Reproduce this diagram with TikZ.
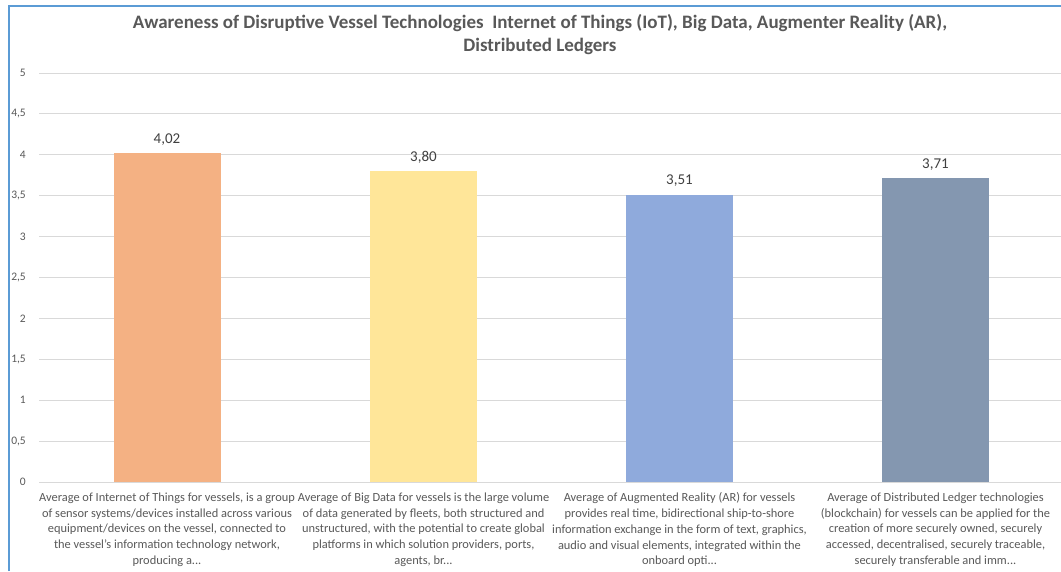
\documentclass[tikz,border=0pt]{standalone}
\usepackage{fontspec}
\setmainfont{Carlito}
\definecolor{frameblue}{HTML}{5B9BD5}
\definecolor{gridgray}{HTML}{D9D9D9}
\definecolor{txtgray}{HTML}{595959}
\definecolor{valgray}{HTML}{404040}
\definecolor{barA}{HTML}{F4B183}
\definecolor{barB}{HTML}{FFE699}
\definecolor{barC}{HTML}{8FAADC}
\definecolor{barD}{HTML}{8497B0}
\tikzset{
  gridline/.style={draw=gridgray, line width=1pt},
  ticklbl/.style={anchor=east, text=txtgray, font=\fontsize{11.5}{13}\selectfont, inner sep=0pt},
  barbox/.style={draw=none, minimum width=107pt, inner sep=0pt, anchor=south},
  vallbl/.style={text=valgray, font=\fontsize{15}{16}\selectfont, inner sep=0pt, anchor=base},
  catlbl/.style={text=txtgray, font=\fontsize{12.4}{15.8}\selectfont, align=center, anchor=north, inner sep=0pt},
  titlelbl/.style={text=txtgray, font=\bfseries\fontsize{19}{23}\selectfont, align=center, inner sep=0pt}
}
\begin{document}
\begin{tikzpicture}[x=1pt,y=-1pt]
\useasboundingbox (0,0) rectangle (1061,571);
\fill[white] (0,0) rectangle (1061,571);
% frame
\draw[frameblue, line width=2pt] (8.8,571) -- (8.8,5.8) -- (1061,5.8);
% title
\node[titlelbl] (title) at (540,35) {Awareness of Disruptive Vessel Technologies\ \ Internet of Things (IoT), Big Data, Augmenter Reality (AR),\\Distributed Ledgers};
% grid and ticks
\foreach \v/\l in {0/0,0.5/{0,5},1/1,1.5/{1,5},2/2,2.5/{2,5},3/3,3.5/{3,5},4/4,4.5/{4,5},5/5} {
  \draw[gridline] (39,{482-81.8*\v}) -- (1061,{482-81.8*\v});
  \node[ticklbl] at (26,{482-81.8*\v}) {\l};
}
% bars
\node[barbox, fill=barA, minimum height={4.02*81.8pt}] (b1) at (167,482) {};
\node[barbox, fill=barB, minimum height={3.80*81.8pt}] (b2) at (423.5,482) {};
\node[barbox, fill=barC, minimum height={3.51*81.8pt}] (b3) at (679.5,482) {};
\node[barbox, fill=barD, minimum height={3.71*81.8pt}] (b4) at (935.5,482) {};
% values
\node[vallbl] (v1) at ([yshift=9.5pt]b1.north) {4,02};
\node[vallbl] (v2) at ([yshift=9.5pt]b2.north) {3,80};
\node[vallbl] (v3) at ([yshift=9.5pt]b3.north) {3,51};
\node[vallbl] (v4) at ([yshift=9.5pt]b4.north) {3,71};
% categories
\node[catlbl] (c1) at (167,492.5) {Average of Internet of Things for vessels, is a group\\of sensor systems/devices installed across various\\equipment/devices on the vessel, connected to\\the vessel's information technology network,\\producing a...};
\node[catlbl] (c2) at (423.5,492.5) {Average of Big Data for vessels is the large volume\\of data generated by fleets, both structured and\\unstructured, with the potential to create global\\platforms in which solution providers, ports,\\agents, br...};
\node[catlbl] (c3) at (679.5,492.5) {Average of Augmented Reality (AR) for vessels\\provides real time, bidirectional ship-to-shore\\information exchange in the form of text, graphics,\\audio and visual elements, integrated within the\\onboard opti...};
\node[catlbl] (c4) at (935.5,492.5) {Average of Distributed Ledger technologies\\(blockchain) for vessels can be applied for the\\creation of more securely owned, securely\\accessed, decentralised, securely traceable,\\securely transferable and imm...};
\end{tikzpicture}
\end{document}
